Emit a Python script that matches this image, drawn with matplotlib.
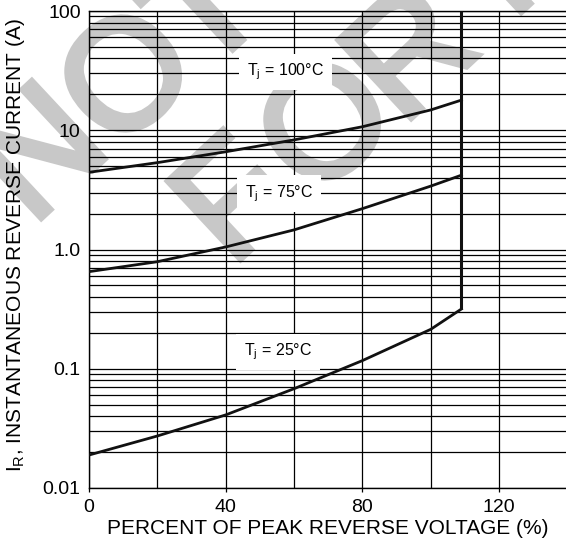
import numpy as np
import matplotlib
matplotlib.use('Agg')
import matplotlib.pyplot as plt
import matplotlib.patheffects as pe
from matplotlib.ticker import FixedLocator, LogLocator, NullFormatter

plt.rcParams['font.family'] = ['Liberation Sans', 'DejaVu Sans']
plt.rcParams['mathtext.fontset'] = 'custom'
plt.rcParams['mathtext.rm'] = 'Liberation Sans'

# percent of peak reverse voltage
pct = [0, 20, 40, 60, 80, 100, 109]
# instantaneous reverse current (A) per junction temperature
ir_100 = [4.44, 5.35, 6.6, 8.3, 10.7, 14.8, 17.9]
ir_75 = [0.652, 0.79, 1.05, 1.46, 2.2, 3.4, 4.2]
ir_25 = [0.0189, 0.0273, 0.041, 0.068, 0.117, 0.214, 0.317]
# breakdown edge
edge_x = [109, 109]
edge_y = [0.317, 100]

labels = ['$\\mathregular{T_j}$ = 100°C', '$\\mathregular{T_j}$ = 75°C', '$\\mathregular{T_j}$ = 25°C']
label_pos = [(57.6, 30.8), (55.7, 2.95), (55.3, 0.138)]

W, H = 566, 544
fig = plt.figure(figsize=(W / 100, H / 100), dpi=100)
fig.patch.set_facecolor('white')
ax = fig.add_axes([89 / W, 1 - 488 / H, (566 - 89) / W * 140 / 139.6, (488 - 11) / H])
ax.set_facecolor('none')

# watermark letters behind everything (letter centres in pixels)
wm_size = 112
rot = 43
ang = np.deg2rad(rot)
dn = np.array([np.sin(ang), np.cos(ang)])    # glyph "down" in screen px
half_cap = 0.716 * wm_size * 100 / 72 / 2
wm_letters = [('N', (35, 148)), ('O', (122, 72)), ('T', (200, 4)),
              ('F', (228, 195)), ('O', (321, 120)), ('R', (405, 48)), ('N', (515, -58))]
for ch, (cx, cy) in wm_letters:
    p = np.array([cx, cy]) + dn * half_cap
    fig.text(p[0] / W, 1 - p[1] / H, ch, fontsize=wm_size, color='#c8c8c8',
             rotation=rot, rotation_mode='anchor', ha='center', va='baseline', zorder=-1,
             path_effects=[pe.withStroke(linewidth=4.2, foreground='#c8c8c8', joinstyle='miter')])

ax.set_yscale('log')
ax.set_xlim(0, 140)
ax.set_ylim(0.01, 100)

ax.xaxis.set_major_locator(FixedLocator([0, 40, 80, 120]))
ax.xaxis.set_minor_locator(FixedLocator([20, 60, 100]))
ax.yaxis.set_major_locator(FixedLocator([0.01, 0.1, 1, 10, 100]))
ax.set_yticklabels(['0.01', '0.1', '1.0', '10', '100'])
ax.yaxis.set_minor_locator(LogLocator(base=10, subs=np.arange(2, 10)))
ax.yaxis.set_minor_formatter(NullFormatter())

ax.grid(True, which='both', axis='both', color='black', lw=0.9, zorder=1)
ax.set_axisbelow(True)
ax.tick_params(axis='x', which='major', length=3, width=0.9, pad=5, labelsize=14, direction='out')
ax.tick_params(axis='x', which='minor', length=0)
ax.tick_params(axis='y', which='both', length=0, pad=6, labelsize=14)

ax.spines['right'].set_visible(False)
for s in ['left', 'bottom', 'top']:
    ax.spines[s].set_linewidth(1.0)

ax.plot(pct, ir_100, color='#111111', lw=2.0, zorder=4)
ax.plot(pct, ir_75, color='#111111', lw=2.0, zorder=4)
ax.plot(pct, ir_25, color='#111111', lw=2.0, zorder=4)
ax.plot(edge_x, edge_y, color='#111111', lw=2.2, zorder=4, solid_capstyle='butt')

for txt, (x, y) in zip(labels, label_pos):
    ax.text(x, y, txt, fontsize=11.5, ha='center', va='center', zorder=3,
            bbox=dict(boxstyle='square,pad=0.5', facecolor='white', edgecolor='none'))

ax.set_xlabel('PERCENT OF PEAK REVERSE VOLTAGE (%)', fontsize=15, labelpad=2)
ax.set_ylabel('$\\mathregular{I_R}$, INSTANTANEOUS REVERSE CURRENT (A)', fontsize=15)
ax.yaxis.set_label_coords((27 - 89) / 477, 0.509)

fig.savefig('out.png', dpi=100)
